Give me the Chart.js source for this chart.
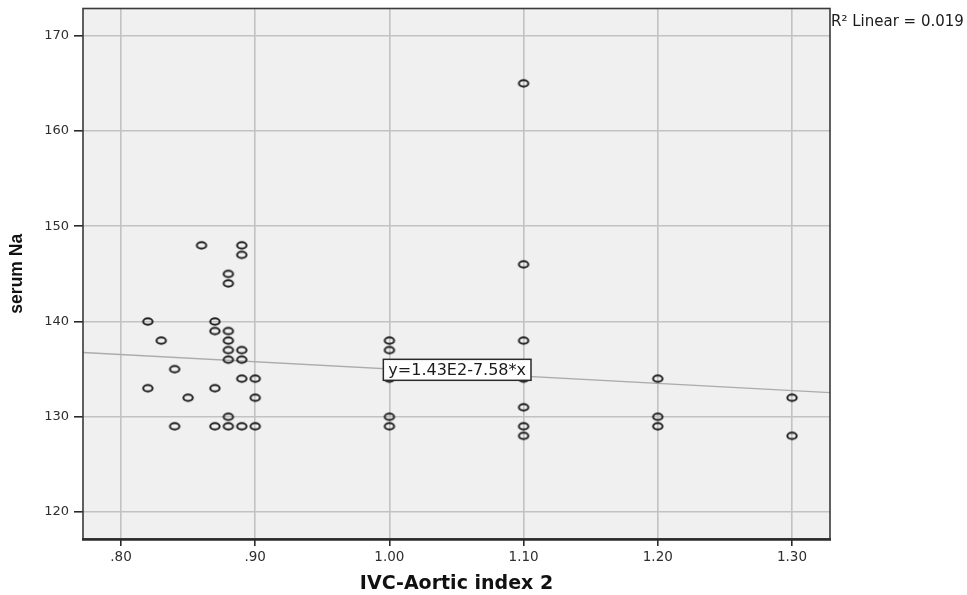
<!DOCTYPE html>
<html>
<head>
<meta charset="utf-8">
<title>serum Na vs IVC-Aortic index 2</title>
<script src="https://cdn.jsdelivr.net/npm/chart.js@4.4.1/dist/chart.umd.min.js"></script>
<style>
  html, body { margin: 0; padding: 0; background: #ffffff; }
  #chart { display: block; }
</style>
</head>
<body>
<canvas id="chart" width="967" height="595"></canvas>
<script>
// Observations: IVC-Aortic index 2 (x) and serum Na (y)
const ivcIndex = [
  0.82, 0.82, 0.83, 0.84, 0.84, 0.85, 0.86,
  0.87, 0.87, 0.87, 0.87,
  0.88, 0.88, 0.88, 0.88, 0.88, 0.88, 0.88, 0.88,
  0.89, 0.89, 0.89, 0.89, 0.89, 0.89,
  0.90, 0.90, 0.90,
  1.00, 1.00, 1.00, 1.00, 1.00,
  1.10, 1.10, 1.10, 1.10, 1.10, 1.10, 1.10,
  1.20, 1.20, 1.20,
  1.30, 1.30
];
const serumNa = [
  140, 133, 138, 135, 129, 132, 148,
  140, 139, 133, 129,
  145, 144, 139, 138, 137, 136, 130, 129,
  148, 147, 137, 136, 134, 129,
  134, 132, 129,
  138, 137, 134, 130, 129,
  165, 146, 138, 134, 131, 129, 128,
  134, 130, 129,
  132, 128
];

// Linear fit shown on the chart
const fitIntercept = 142.6;
const fitSlope = -7.58;
const fitLabel = 'y=1.43E2-7.58*x';
const r2Label = 'R\u00B2 Linear = 0.019';

// Axes
const xRange = [0.7717, 1.3283];
const yRange = [117.17, 172.86];
const xTicks = [0.80, 0.90, 1.00, 1.10, 1.20, 1.30];
const xTickLabels = ['.80', '.90', '1.00', '1.10', '1.20', '1.30'];
const yTicks = [120, 130, 140, 150, 160, 170];
const xTitle = 'IVC-Aortic index 2';
const yTitle = 'serum Na';

const points = ivcIndex.map((x, i) => ({ x: x, y: serumNa[i] }));
const fitLine = xRange.map(x => ({ x: x, y: fitIntercept + fitSlope * x }));

// Open elliptical marker
function makeMarker() {
  const c = document.createElement('canvas');
  c.width = 14; c.height = 11;
  const g = c.getContext('2d');
  g.strokeStyle = '#1e1e1e';
  g.lineWidth = 2;
  g.beginPath();
  g.ellipse(7, 5.5, 4.7, 3.2, 0, 0, Math.PI * 2);
  g.stroke();
  return c;
}
const marker = makeMarker();

const plotFrame = {
  id: 'plotFrame',
  beforeDraw(chart) {
    const { ctx, chartArea: a } = chart;
    ctx.save();
    ctx.fillStyle = '#f0f0f0';
    ctx.fillRect(a.left, a.top, a.right - a.left, a.bottom - a.top);
    ctx.restore();
  },
  afterDatasetsDraw(chart) {
    const { ctx, scales } = chart;
    // equation box
    const cx = scales.x.getPixelForValue(1.0505);
    const cy = scales.y.getPixelForValue(134.93);
    ctx.save();
    ctx.font = '16px "DejaVu Sans"';
    const w = ctx.measureText(fitLabel).width + 10;
    const h = 21;
    ctx.fillStyle = '#ffffff';
    ctx.fillRect(cx - w / 2, cy - h / 2, w, h);
    ctx.strokeStyle = '#2a2a2a';
    ctx.lineWidth = 1.5;
    ctx.strokeRect(cx - w / 2, cy - h / 2, w, h);
    ctx.fillStyle = '#1a1a1a';
    ctx.textAlign = 'center';
    ctx.textBaseline = 'middle';
    ctx.fillText(fitLabel, cx, cy + 1);
    ctx.restore();
  },
  afterDraw(chart) {
    const { ctx, chartArea: a } = chart;
    ctx.save();
    ctx.strokeStyle = '#3a3a3a';
    ctx.lineWidth = 1.6;
    ctx.strokeRect(a.left, a.top, a.right - a.left, a.bottom - a.top);
    ctx.lineWidth = 2.6;
    ctx.strokeStyle = '#2a2a2a';
    ctx.beginPath();
    ctx.moveTo(a.left - 1, a.bottom + 0.5);
    ctx.lineTo(a.right + 1, a.bottom + 0.5);
    ctx.stroke();
    // R squared note
    ctx.fillStyle = '#1a1a1a';
    ctx.font = '15px "DejaVu Sans"';
    ctx.textAlign = 'left';
    ctx.textBaseline = 'alphabetic';
    ctx.fillText(r2Label, a.right + 1, 26);
    ctx.restore();
  }
};

new Chart(document.getElementById('chart'), {
  type: 'scatter',
  data: {
    datasets: [
      {
        label: 'serum Na',
        data: points,
        pointStyle: marker,
        pointRadius: 6,
        order: 1
      },
      {
        type: 'line',
        label: 'Linear fit',
        data: fitLine,
        borderColor: '#acacac',
        borderWidth: 1.4,
        pointRadius: 0,
        fill: false,
        order: 2
      }
    ]
  },
  options: {
    responsive: false,
    devicePixelRatio: 1,
    animation: false,
    events: [],
    layout: { padding: { left: 0, top: 8.5, right: 137, bottom: 0 } },
    plugins: {
      legend: { display: false },
      tooltip: { enabled: false }
    },
    scales: {
      x: {
        type: 'linear',
        position: 'bottom',
        min: xRange[0],
        max: xRange[1],
        afterBuildTicks(scale) { scale.ticks = xTicks.map(v => ({ value: v })); },
        afterFit(scale) {
          scale.height = 56;
          scale.paddingLeft = 0;
          scale.paddingRight = 0;
        },
        ticks: {
          callback: (v, i) => xTickLabels[i],
          font: { family: '"DejaVu Sans"', size: 13.5 },
          color: '#2e2e2e',
          padding: 3,
          maxRotation: 0,
          autoSkip: false
        },
        grid: {
          color: '#c2c2c2',
          lineWidth: 1.6,
          tickColor: '#2a2a2a',
          tickWidth: 1.6,
          tickLength: 7
        },
        border: { display: false },
        title: {
          display: true,
          text: xTitle,
          font: { family: '"DejaVu Sans"', size: 19, weight: 'bold', lineHeight: 1.2 },
          color: '#111111',
          padding: { top: 0, bottom: 0 }
        }
      },
      y: {
        type: 'linear',
        position: 'left',
        min: yRange[0],
        max: yRange[1],
        afterBuildTicks(scale) { scale.ticks = yTicks.map(v => ({ value: v })); },
        afterFit(scale) {
          scale.width = 83;
          scale.paddingTop = 0;
          scale.paddingBottom = 0;
        },
        ticks: {
          font: { family: '"DejaVu Sans"', size: 13 },
          color: '#2e2e2e',
          padding: 5,
          autoSkip: false
        },
        grid: {
          color: '#c2c2c2',
          lineWidth: 1.6,
          tickColor: '#2a2a2a',
          tickWidth: 1.6,
          tickLength: 9
        },
        border: { display: false },
        title: {
          display: true,
          text: yTitle,
          font: { family: '"Liberation Sans"', size: 17.5, weight: 'bold', lineHeight: 1.2 },
          color: '#111111',
          padding: { top: 6.5, bottom: 0 }
        }
      }
    }
  },
  plugins: [plotFrame]
});
</script>
</body>
</html>
